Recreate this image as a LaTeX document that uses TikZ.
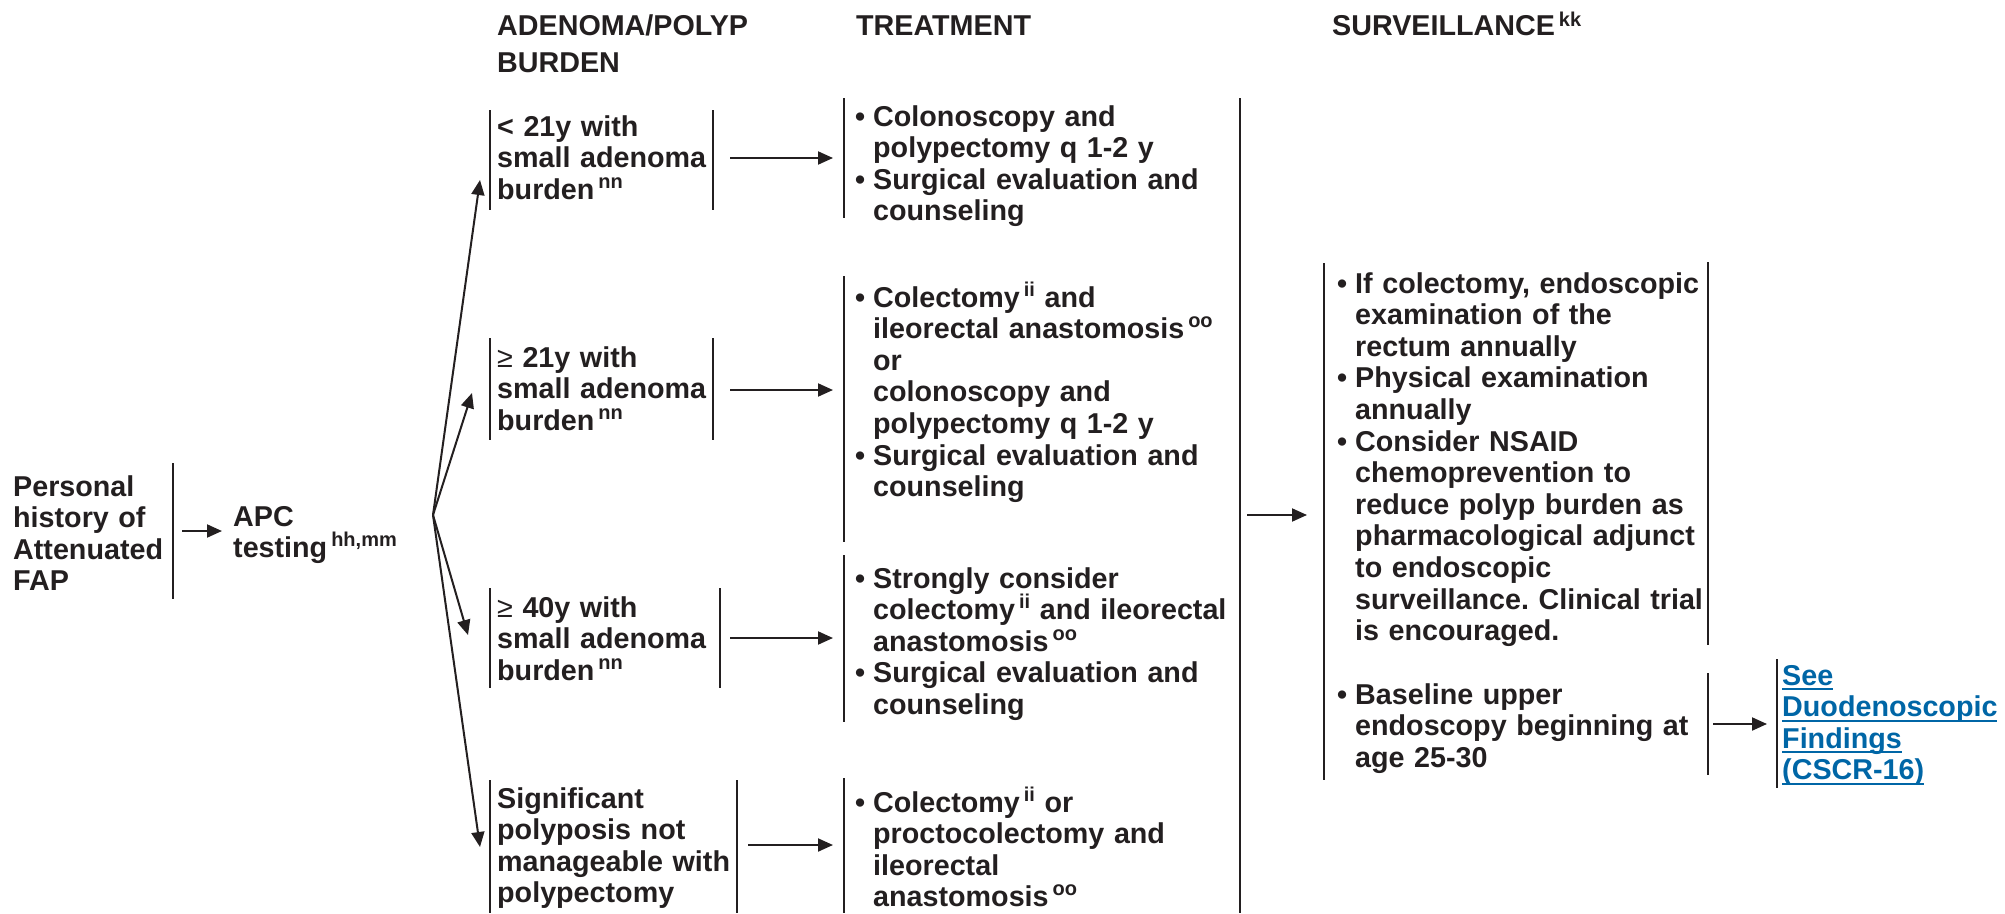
\documentclass[tikz,border=0pt]{standalone}
\usepackage{fontspec}
\setmainfont{Liberation Sans}
\usetikzlibrary{arrows.meta}
\definecolor{ink}{RGB}{35,31,32}
\definecolor{linkblue}{RGB}{0,102,166}
% footnote letters, raised and smaller
\newcommand\fn[1]{\kern4pt\raisebox{11pt}{\fontsize{20}{20}\selectfont #1}}
\newcommand\fnh[1]{\kern4pt\raisebox{9pt}{\fontsize{20}{20}\selectfont #1}}
% bullet and hanging indent for list lines
\newcommand\bul{\makebox[18pt][l]{\textbullet}}
\newcommand\ind{\hspace*{18pt}}
% underlined link line, rule set just under the baseline
\newcommand\lnk[1]{\leavevmode\setbox0\hbox{#1}\rlap{\rule[-5pt]{\wd0}{2pt}}\box0}
\newcommand\gesign{{\mdseries ≥}}
\frenchspacing

\begin{document}
\begin{tikzpicture}[x=1pt,y=-1pt,
  txt/.style={anchor=base west, inner sep=0pt, text width=500pt, align=left,
              font=\bfseries\fontsize{28.7}{31.6}\selectfont, text=ink},
  hdr/.style={txt, font=\bfseries\fontsize{28.7}{37}\selectfont},
  bar/.style={line width=2.7pt, draw=ink},
  arr/.style={line width=2pt, draw=ink, -{Triangle[length=15pt,width=13pt]}},
]
\useasboundingbox (0,0) rectangle (2005,913);

% column headings
\node[hdr] (hAden)  at (497,35.5) {ADENOMA/POLYP\\BURDEN};
\node[hdr] (hTreat) at (856,35.5) {TREATMENT};
\node[hdr] (hSurv)  at (1332,35.5) {SURVEILLANCE\fnh{kk}};

% starting point
\node[txt] (hist) at (13,496) {Personal\\history of\\Attenuated\\FAP};
\node[txt] (apc)  at (233,526) {APC\\testing\fn{hh,mm}};

% adenoma / polyp burden
\node[txt] (b1) at (497,136) {< 21y with\\small adenoma\\burden\fn{nn}};
\node[txt] (b2) at (497,367) {\gesign\ 21y with\\small adenoma\\burden\fn{nn}};
\node[txt] (b3) at (497,617) {\gesign\ 40y with\\small adenoma\\burden\fn{nn}};
\node[txt] (b4) at (497,808) {Significant\\polyposis not\\manageable with\\polypectomy};

% treatment
\node[txt] (t1) at (855,126) {\bul Colonoscopy and\\\ind polypectomy q 1-2 y\\\bul Surgical evaluation and\\\ind counseling};
\node[txt] (t2) at (855,307) {\bul Colectomy\fn{ii} and\\\ind ileorectal anastomosis\fn{oo}\\\ind or\\\ind colonoscopy and\\\ind polypectomy q 1-2 y\\\bul Surgical evaluation and\\\ind counseling};
\node[txt] (t3) at (855,588) {\bul Strongly consider\\\ind colectomy\fn{ii} and ileorectal\\\ind anastomosis\fn{oo}\\\bul Surgical evaluation and\\\ind counseling};
\node[txt] (t4) at (855,812) {\bul Colectomy\fn{ii} or\\\ind proctocolectomy and\\\ind ileorectal\\\ind anastomosis\fn{oo}};

% surveillance
\node[txt] (s1) at (1337,293) {\bul If colectomy, endoscopic\\\ind examination of the\\\ind rectum annually\\\bul Physical examination\\\ind annually\\\bul Consider NSAID\\\ind chemoprevention to\\\ind reduce polyp burden as\\\ind pharmacological adjunct\\\ind to endoscopic\\\ind surveillance. Clinical trial\\\ind is encouraged.};
\node[txt] (s2) at (1337,704) {\bul Baseline upper\\\ind endoscopy beginning at\\\ind age 25-30};
\node[txt, text=linkblue] (duo) at (1782,685) {\lnk{See}\\\lnk{Duodenoscopic}\\\lnk{Findings}\\\lnk{(CSCR-16)}};

% bracket bars
\draw[bar] (173,463) -- (173,599);
\draw[bar] (490,110) -- (490,210);  \draw[bar] (713,110) -- (713,210);
\draw[bar] (490,338) -- (490,440);  \draw[bar] (713,338) -- (713,440);
\draw[bar] (490,588) -- (490,688);  \draw[bar] (720,588) -- (720,688);
\draw[bar] (490,780) -- (490,913);  \draw[bar] (737,780) -- (737,913);
\draw[bar] (844,98) -- (844,218);
\draw[bar] (844,276) -- (844,542);
\draw[bar] (844,555) -- (844,722);
\draw[bar] (844,778) -- (844,913);
\draw[bar] (1240,98) -- (1240,913);
\draw[bar] (1324,263) -- (1324,780);
\draw[bar] (1708,262) -- (1708,645);
\draw[bar] (1708,673) -- (1708,775);
\draw[bar] (1777,659) -- (1777,788);

% connector end points
\coordinate (histR) at (182,531);  \coordinate (apcL) at (222,531);
\coordinate (fan)   at (433,515);
\coordinate (b1in)  at (480,180);  \coordinate (b2in) at (472,393);
\coordinate (b3in)  at (468,635);  \coordinate (b4in) at (480,847);
\coordinate (b1out) at (730,158);  \coordinate (t1in) at (833,158);
\coordinate (b2out) at (730,390);  \coordinate (t2in) at (833,390);
\coordinate (b3out) at (730,638);  \coordinate (t3in) at (833,638);
\coordinate (b4out) at (748,845);  \coordinate (t4in) at (833,845);
\coordinate (tout)  at (1247,515); \coordinate (s1in) at (1307,515);
\coordinate (s2out) at (1713,724); \coordinate (duoin) at (1767,724);

% connectors
\draw[arr] (histR) -- (apcL);
\draw[arr] (fan) -- (b1in);
\draw[arr] (fan) -- (b2in);
\draw[arr] (fan) -- (b3in);
\draw[arr] (fan) -- (b4in);
\draw[arr] (b1out) -- (t1in);
\draw[arr] (b2out) -- (t2in);
\draw[arr] (b3out) -- (t3in);
\draw[arr] (b4out) -- (t4in);
\draw[arr] (tout) -- (s1in);
\draw[arr] (s2out) -- (duoin);
\end{tikzpicture}
\end{document}
